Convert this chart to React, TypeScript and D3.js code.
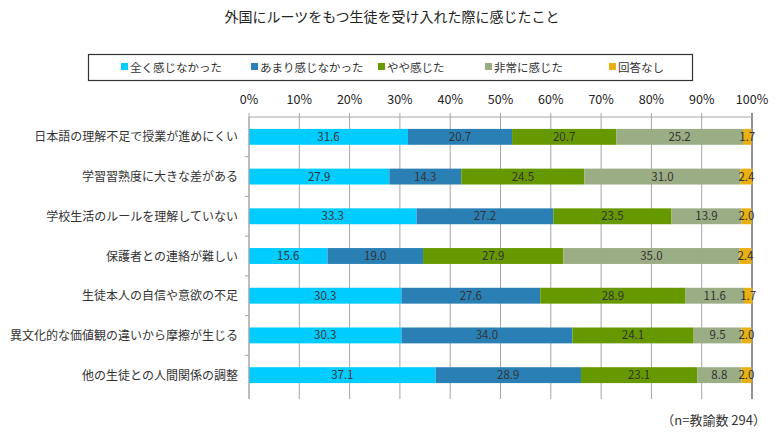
import React, { useEffect, useRef } from 'react';
import * as d3 from 'd3';

const title = "外国にルーツをもつ生徒を受け入れた際に感じたこと";
const categories = [
  "日本語の理解不足で授業が進めにくい",
  "学習習熟度に大きな差がある",
  "学校生活のルールを理解していない",
  "保護者との連絡が難しい",
  "生徒本人の自信や意欲の不足",
  "異文化的な価値観の違いから摩擦が生じる",
  "他の生徒との人間関係の調整",
];
const seriesNames = ["全く感じなかった", "あまり感じなかった", "やや感じた", "非常に感じた", "回答なし"];
const seriesColors = ["#00CCFF", "#2A80B5", "#669900", "#9BAD84", "#E8B015"];
const notAtAll = [31.6, 27.9, 33.3, 15.6, 30.3, 30.3, 37.1];
const notMuch = [20.7, 14.3, 27.2, 19.0, 27.6, 34.0, 28.9];
const somewhat = [20.7, 24.5, 23.5, 27.9, 28.9, 24.1, 23.1];
const very = [25.2, 31.0, 13.9, 35.0, 11.6, 9.5, 8.8];
const noAnswer = [1.7, 2.4, 2.0, 2.4, 1.7, 2.0, 2.0];
const xTicks = [0, 10, 20, 30, 40, 50, 60, 70, 80, 90, 100];
const note = "（n=教諭数 294）";

const FONT = "'Noto Sans CJK JP', 'Noto Sans', sans-serif";

const App = () => {
  const svgRef = useRef(null);

  useEffect(() => {
    const series = [notAtAll, notMuch, somewhat, very, noAnswer];
    const rows = categories.map((c, i) => {
      const o: any = { cat: c };
      seriesNames.forEach((s, j) => { o[s] = series[j][i]; });
      return o;
    });
    const stacked = d3.stack().keys(seriesNames)(rows);

    const svg = d3.select(svgRef.current);
    svg.selectAll("*").remove();

    const left = 249, right = 752, top = 117, bottom = 395;

    const x = d3.scaleLinear().domain([0, 100]).range([left, right]);
    const y = d3.scaleBand().domain(categories).range([top, bottom]).paddingInner(0.6).paddingOuter(0.3);

    svg.append("text")
      .attr("x", 392).attr("y", 22)
      .attr("text-anchor", "middle")
      .style("font-size", "14px")
      .style("font-family", FONT)
      .attr("fill", "#222")
      .text(title);

    // legend
    svg.append("rect")
      .attr("x", 88.5).attr("y", 54.5).attr("width", 604).attr("height", 26)
      .attr("fill", "white").attr("stroke", "#333").attr("stroke-width", 1.2);
    const legX = [121, 251, 378, 485, 609];
    seriesNames.forEach((s, i) => {
      svg.append("rect")
        .attr("x", legX[i]).attr("y", 63).attr("width", 7).attr("height", 7)
        .attr("fill", seriesColors[i]);
      svg.append("text")
        .attr("x", legX[i] + 9).attr("y", 71.5)
        .style("font-size", "11.5px")
        .style("font-family", FONT)
        .attr("fill", "#333")
        .text(s);
    });

    // gridlines
    svg.append("g").selectAll("line")
      .data(xTicks)
      .enter().append("line")
      .attr("x1", d => x(d)).attr("x2", d => x(d))
      .attr("y1", top - 4).attr("y2", bottom + 4)
      .attr("stroke", d => d === 100 ? "#222" : "#A6A6A6")
      .attr("stroke-width", 1);

    svg.append("line")
      .attr("x1", left).attr("x2", right)
      .attr("y1", top).attr("y2", top)
      .attr("stroke", "#A6A6A6");

    svg.append("g").selectAll("text")
      .data(xTicks)
      .enter().append("text")
      .attr("x", d => x(d)).attr("y", 104)
      .attr("text-anchor", "middle")
      .style("font-size", "12.5px")
      .style("font-family", FONT)
      .attr("fill", "#222")
      .text(d => d + "%");

    // bars
    const g = svg.append("g");
    stacked.forEach((layer, i) => {
      g.append("g")
        .selectAll("rect")
        .data(layer)
        .enter().append("rect")
        .attr("x", d => x(d[0]))
        .attr("width", d => x(d[1]) - x(d[0]))
        .attr("y", (d: any) => y(d.data.cat))
        .attr("height", y.bandwidth())
        .attr("fill", seriesColors[i]);
      g.append("g")
        .selectAll("text")
        .data(layer)
        .enter().append("text")
        .attr("x", d => (x(d[0]) + x(d[1])) / 2)
        .attr("y", (d: any) => y(d.data.cat) + y.bandwidth() / 2 + 4)
        .attr("text-anchor", "middle")
        .style("font-size", "11.5px")
        .style("font-family", FONT)
        .attr("fill", "#333")
        .text(d => (d[1] - d[0]).toFixed(1));
    });

    // left axis
    svg.append("line")
      .attr("x1", left).attr("x2", left)
      .attr("y1", top).attr("y2", bottom + 4)
      .attr("stroke", "#A6A6A6");
    const step = y.step();
    for (let i = 1; i < categories.length; i++) {
      const yy = y(categories[i]) - step * 0.3;
      svg.append("line")
        .attr("x1", left - 4).attr("x2", left)
        .attr("y1", yy).attr("y2", yy)
        .attr("stroke", "#A6A6A6");
    }

    svg.append("g").selectAll("text")
      .data(categories)
      .enter().append("text")
      .attr("x", 238)
      .attr("y", d => y(d) + y.bandwidth() / 2 + 4.5)
      .attr("text-anchor", "end")
      .style("font-size", "12px")
      .style("font-family", FONT)
      .attr("fill", "#333")
      .text(d => d);

    svg.append("text")
      .attr("x", 766).attr("y", 425)
      .attr("text-anchor", "end")
      .style("font-size", "13px")
      .style("font-family", FONT)
      .attr("fill", "#333")
      .text(note);
  }, []);

  return (
    <svg ref={svgRef} width={780} height={435} style={{ position: 'absolute', left: 0, top: 0, background: 'white' }}></svg>
  );
};

export default App;
